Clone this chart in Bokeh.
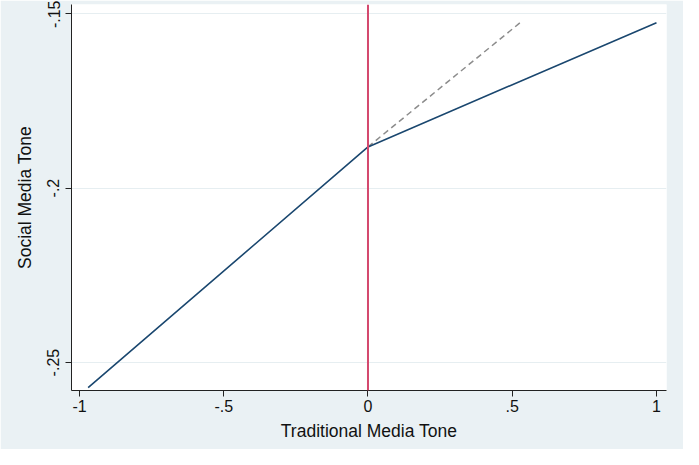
from bokeh.plotting import figure
from bokeh.models import Range1d, FixedTicker, Span
from bokeh.embed import file_html
from bokeh.resources import INLINE

# Data
traditional_tone = [-0.97, 0.0, 1.0]
social_tone = [-0.2572, -0.1882, -0.1526]
projection_x = [0.0, 0.535]
projection_y = [-0.1882, -0.1521]

x_ticks = [-1, -0.5, 0, 0.5, 1]
x_tick_labels = ["-1", "-.5", "0", ".5", "1"]
y_ticks = [-0.25, -0.2, -0.15]
y_tick_labels = ["-.25", "-.2", "-.15"]

BG = "#eaf1f4"
FONT = "Liberation Sans"

p = figure(width=683, height=449, output_backend="svg", toolbar_location=None,
           x_range=Range1d(-1.0277, 1.0347), y_range=Range1d(-0.258, -0.1474),
           min_border_left=71, min_border_top=4, min_border_right=17, min_border_bottom=59)
p.border_fill_color = BG
p.background_fill_color = "white"
p.outline_line_color = None

p.line(projection_x, projection_y, line_color="#8c8c8c", line_width=1.5, line_dash="6 4")
p.line(traditional_tone, social_tone, line_color="#1a476f", line_width=1.6)
p.add_layout(Span(location=0, dimension="height", line_color="#d4486e", line_width=2))

p.xgrid.visible = False
p.ygrid.grid_line_color = "#e6eef1"
p.ygrid.grid_line_width = 1.2

p.xaxis.ticker = FixedTicker(ticks=x_ticks)
p.xaxis.major_label_overrides = {t: l for t, l in zip(x_ticks, x_tick_labels)}
p.yaxis.ticker = FixedTicker(ticks=y_ticks)
p.yaxis.major_label_overrides = {t: l for t, l in zip(y_ticks, y_tick_labels)}
p.yaxis.major_label_orientation = "vertical"

p.xaxis.axis_label = "Traditional Media Tone"
p.yaxis.axis_label = "Social Media Tone"

for ax in (p.xaxis, p.yaxis):
    ax.axis_line_color = "#222222"
    ax.major_tick_line_color = "#222222"
    ax.major_tick_out = 6
    ax.major_tick_in = 0
    ax.minor_tick_line_color = None
    ax.major_label_text_font = FONT
    ax.major_label_text_font_size = "16px"
    ax.major_label_text_color = "#111111"
    ax.axis_label_text_font = FONT
    ax.axis_label_text_font_size = "17.5px"
    ax.axis_label_text_font_style = "normal"
    ax.axis_label_text_color = "#111111"
p.xaxis.major_label_standoff = 3
p.yaxis.major_label_standoff = 6
p.xaxis.axis_label_standoff = 6
p.yaxis.axis_label_standoff = 10

open("out.html", "w").write(file_html(p, INLINE))
